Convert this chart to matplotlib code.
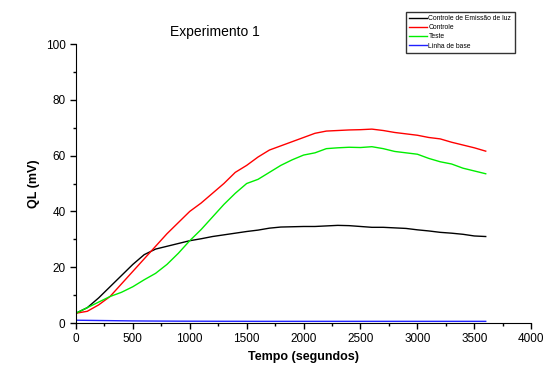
import numpy as np
import matplotlib.pyplot as plt
from matplotlib.ticker import MultipleLocator

plt.rcParams['font.family'] = ['Liberation Sans', 'DejaVu Sans']

tempo = [0, 100, 200, 300, 400, 500, 600, 700, 800, 900, 1000, 1100, 1200,
         1300, 1400, 1500, 1600, 1700, 1800, 1900, 2000, 2100, 2200, 2300,
         2400, 2500, 2600, 2700, 2800, 2900, 3000, 3100, 3200, 3300, 3400,
         3500, 3600]

controle_emissao = [3.5, 5.5, 9, 13, 17, 21, 24.5, 26.5, 27.5, 28.5, 29.5,
                    30.2, 31, 31.6, 32.2, 32.8, 33.3, 34, 34.4, 34.5, 34.6,
                    34.6, 34.8, 35, 34.9, 34.6, 34.3, 34.3, 34.1, 33.9, 33.4,
                    33, 32.5, 32.2, 31.8, 31.2, 31.0]

controle = [3.5, 4.2, 6.5, 9.5, 14, 18.5, 23, 27.5, 32, 36, 40, 43, 46.5, 50,
            54, 56.5, 59.5, 62, 63.5, 65, 66.5, 68, 68.8, 69, 69.2, 69.3,
            69.5, 69, 68.3, 67.8, 67.3, 66.5, 66, 64.8, 63.8, 62.8, 61.6]

teste = [3.5, 5.5, 7.5, 9.5, 11, 13, 15.5, 17.8, 21, 25, 29.5, 33.5, 38,
         42.5, 46.5, 50, 51.5, 54, 56.5, 58.5, 60.2, 61, 62.5, 62.8, 63,
         62.9, 63.2, 62.5, 61.5, 61, 60.5, 59, 57.8, 57, 55.5, 54.5, 53.5]

linha_base = [1.0, 0.95, 0.9, 0.85, 0.8, 0.75, 0.72, 0.7, 0.68, 0.66, 0.65,
              0.64, 0.63, 0.62, 0.62, 0.61, 0.6, 0.6, 0.6, 0.6, 0.6, 0.6,
              0.6, 0.6, 0.6, 0.6, 0.6, 0.6, 0.6, 0.6, 0.6, 0.6, 0.6, 0.6,
              0.6, 0.6, 0.6]

fig = plt.figure(figsize=(5.46, 3.70), dpi=100)
ax = fig.add_axes([0.139, 0.127, 0.834, 0.754])

ax.plot(tempo, controle_emissao, color='black', lw=1, label='Controle de Emissão de luz')
ax.plot(tempo, controle, color='#ff0000', lw=1, label='Controle')
ax.plot(tempo, teste, color='#00ee00', lw=1, label='Teste')
ax.plot(tempo, linha_base, color='#2020ff', lw=1, label='Linha de base')

ax.set_xlim(0, 4000)
ax.set_ylim(0, 100)
ax.xaxis.set_major_locator(MultipleLocator(500))
ax.xaxis.set_minor_locator(MultipleLocator(250))
ax.yaxis.set_major_locator(MultipleLocator(20))
ax.yaxis.set_minor_locator(MultipleLocator(10))
ax.tick_params(which='both', direction='out', labelsize=8.5, width=1)
ax.tick_params(which='major', length=4)
ax.tick_params(which='minor', length=2.5)
ax.spines['top'].set_visible(False)
ax.spines['right'].set_visible(False)

ax.set_xlabel('Tempo (segundos)', fontsize=9, fontweight='bold')
ax.set_ylabel('QL (mV)', fontsize=9, fontweight='bold')

fig.text(215 / 546, 1 - 32 / 370, 'Experimento 1', ha='center', va='center', fontsize=10)

leg = fig.legend(loc='upper left', bbox_to_anchor=(406 / 546, 1 - 12 / 370),
                 fontsize=4.9, frameon=True, fancybox=False, handlelength=2.6,
                 borderpad=0.5, labelspacing=0.3, handletextpad=0.2,
                 borderaxespad=0)
leg.get_frame().set_edgecolor('black')
leg.get_frame().set_linewidth(1)

fig.savefig('out.png', dpi=100)
